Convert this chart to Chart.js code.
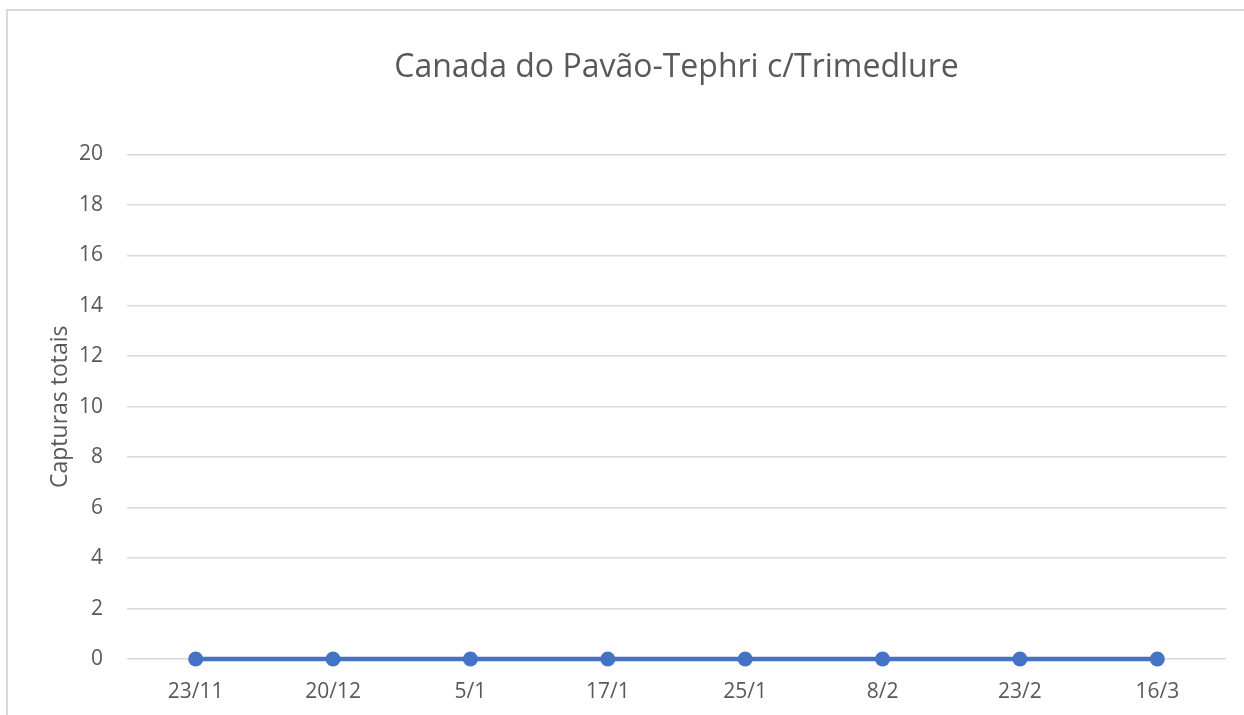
<!DOCTYPE html>
<html>
<head>
<meta charset="utf-8">
<script src="https://cdn.jsdelivr.net/npm/chart.js@4"></script>
<style>
    html, body { margin: 0; padding: 0; background: #fff; overflow: hidden; }
    #frame {
        position: absolute; left: 6px; top: 9px; width: 1300px; height: 800px;
        border-left: 2px solid #d9d9d9; border-top: 2px solid #d9d9d9;
    }
    #wrap { position: absolute; left: 0; top: 0; width: 1244px; height: 715px; }
</style>
</head>
<body>
<div id="frame"></div>
<div id="wrap"><canvas id="capturasChart" width="1244" height="715"></canvas></div>
<script>
    // Datas de recolha e capturas totais
    const datas = ['23/11', '20/12', '5/1', '17/1', '25/1', '8/2', '23/2', '16/3'];
    const capturas = [0, 0, 0, 0, 0, 0, 0, 0];
    const yMin = 0, yMax = 20, yStep = 2;

    const fontFamily = "'Open Sans', 'Liberation Sans', sans-serif";
    const textColor = '#595959';

    const ctx = document.getElementById('capturasChart').getContext('2d');
    new Chart(ctx, {
        type: 'line',
        data: {
            labels: datas,
            datasets: [{
                label: 'Capturas totais',
                data: capturas,
                borderColor: '#4472C4',
                backgroundColor: '#4472C4',
                borderWidth: 4.5,
                pointRadius: 7.5,
                pointHoverRadius: 7.5,
                pointBorderWidth: 0,
                tension: 0,
                clip: false
            }]
        },
        options: {
            responsive: false,
            animation: false,
            layout: { padding: { left: 0, right: 18, top: 0, bottom: 0 } },
            plugins: {
                legend: { display: false },
                tooltip: { enabled: false },
                title: {
                    display: true,
                    fullSize: false,
                    text: 'Canada do Pavão-Tephri c/Trimedlure',
                    color: textColor,
                    font: { family: fontFamily, size: 32, weight: 'normal', lineHeight: 1.2 },
                    padding: { top: 49, bottom: 67 }
                }
            },
            scales: {
                x: {
                    offset: true,
                    grid: { display: false, drawTicks: false },
                    border: { display: false },
                    ticks: {
                        color: textColor,
                        padding: 20,
                        font: { family: fontFamily, size: 21 }
                    },
                    afterFit: function (scale) { scale.height = 56; }
                },
                y: {
                    min: yMin,
                    max: yMax,
                    grid: { color: '#d9d9d9', lineWidth: 1.5, drawTicks: false },
                    border: { display: false },
                    ticks: {
                        stepSize: yStep,
                        color: textColor,
                        padding: 24,
                        font: { family: fontFamily, size: 21 }
                    },
                    title: {
                        display: true,
                        text: 'Capturas totais',
                        color: textColor,
                        font: { family: fontFamily, size: 23, lineHeight: 1.2 },
                        padding: { top: 47, bottom: 0 }
                    },
                    afterFit: function (scale) { scale.width = 127; }
                }
            }
        }
    });
</script>
</body>
</html>
